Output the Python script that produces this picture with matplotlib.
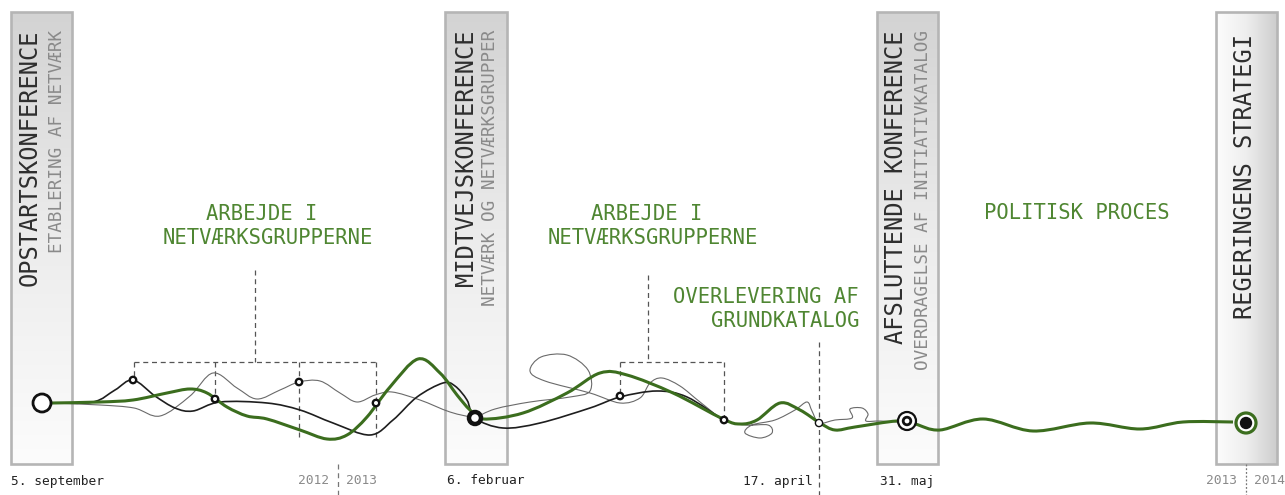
import numpy as np
import matplotlib
matplotlib.use("Agg")
import matplotlib.pyplot as plt
from matplotlib.path import Path
from matplotlib.patches import PathPatch, Rectangle, Circle
from matplotlib.colors import LinearSegmentedColormap

# ---------------- data (pixel coordinates) ----------------
box_x0 = [11, 445, 877, 1216]
box_x1 = [72, 507, 938, 1277]
box_top = 12
box_bot = 464

titles = ["OPSTARTSKONFERENCE", "MIDTVEJSKONFERENCE", "AFSLUTTENDE KONFERENCE", "REGERINGENS STRATEGI"]
title_x = [29.5, 466, 896, 1245]
title_top = [30, 30, 30, 34]
subtitles = ["ETABLERING AF NETVÆRK", "NETVÆRK OG NETVÆRKSGRUPPER", "OVERDRAGELSE AF INITIATIVKATALOG", ""]
subtitle_x = [57, 490, 923, 0]

green_labels = ["ARBEJDE I \nNETVÆRKSGRUPPERNE", "ARBEJDE I \nNETVÆRKSGRUPPERNE",
                "OVERLEVERING AF\nGRUNDKATALOG", "POLITISK PROCES"]
green_label_x = [268, 653, 859, 1077]
green_label_y = [226, 226, 309, 213]
green_label_ha = ["center", "center", "right", "center"]

date_labels = ["5. september", "6. februar", "17. april", "31. maj"]
date_x = [11, 447, 813, 880]
date_ha = ["left", "left", "right", "left"]

year_div_x = [338, 1246]
year_left = ["2012", "2013"]
year_right = ["2013", "2014"]

green_pts = [(52, 403), (100, 402), (133, 400), (167, 393), (190, 389), (207, 393), (227, 407),
             (247, 416), (267, 419), (300, 430), (327, 439), (347, 435), (367, 417), (390, 387),
             (418, 359), (440, 373), (457, 395), (470, 410), (483, 419), (523, 413), (567, 393),
             (600, 373), (627, 375), (673, 393), (723, 419), (740, 424), (757, 420), (780, 403),
             (800, 410), (820, 423), (835, 430), (855, 427), (897, 421), (915, 424), (940, 430),
             (983, 419), (1033, 431), (1090, 423), (1140, 429), (1183, 422), (1233, 422)]

black_pts = [(52, 403), (93, 402), (115, 390), (133, 380), (155, 396), (175, 408), (193, 411),
             (220, 402), (267, 403), (300, 410), (333, 423), (370, 435), (393, 420), (417, 397),
             (443, 383), (455, 386), (467, 400), (475, 418), (503, 428), (540, 423), (590, 408),
             (620, 397), (657, 391), (687, 397), (723, 420)]

gray_a_pts = [(52, 403), (100, 405), (134, 408), (160, 416), (190, 396), (213, 373), (237, 388),
              (257, 399), (280, 390), (299, 382), (320, 381), (340, 393), (357, 402), (375, 395),
              (392, 392), (420, 400), (450, 412), (475, 418)]

gray_b_pts = [(475, 418), (495, 409), (530, 402), (570, 397), (590, 391), (588, 370), (567, 355),
              (541, 357), (530, 371), (545, 381), (590, 393), (620, 403), (640, 398), (650, 383),
              (662, 378), (680, 386), (700, 402), (724, 420), (745, 425), (768, 425), (772, 433),
              (760, 438), (745, 433), (752, 425), (775, 420), (795, 410), (807, 402), (812, 411),
              (819, 423), (835, 420), (852, 418), (850, 409), (862, 408), (868, 414), (866, 421),
              (880, 421), (900, 422)]

small_markers = [(133, 380), (215, 399), (299, 382), (376, 403), (620, 396), (724, 420)]

bracket1_top = (255, 270)
bracket1_drop_x = [134, 215, 299, 376]
bracket1_drop_end = [377, 396, 437, 437]
bracket2_top = (648, 275)
bracket2_drop_x = [620, 724]
bracket2_drop_end = [393, 416]
bracket_y = 362

# ---------------- helpers ----------------
def smooth_path(pts):
    p = np.asarray(pts, float)
    ext = np.vstack([p[0], p, p[-1]])
    verts = [tuple(p[0])]
    codes = [Path.MOVETO]
    for i in range(1, len(ext) - 2):
        p0, p1, p2, p3 = ext[i - 1], ext[i], ext[i + 1], ext[i + 2]
        c1 = p1 + (p2 - p0) / 6.0
        c2 = p2 - (p3 - p1) / 6.0
        verts += [tuple(c1), tuple(c2), tuple(p2)]
        codes += [Path.CURVE4] * 3
    return Path(verts, codes)

GREEN = "#3b6d1e"
GREEN_TXT = "#4f8632"
MONO = "DejaVu Sans Mono"

fig = plt.figure(figsize=(12.85, 4.95), dpi=100)
ax = fig.add_axes([0, 0, 1, 1])
ax.set_xlim(0, 1285)
ax.set_ylim(495, 0)
ax.axis("off")

# boxes with gradient
cm_v = LinearSegmentedColormap.from_list("v", ["#d3d3d3", "#ececec", "#fcfcfc"])
cm_h = LinearSegmentedColormap.from_list("h", ["#fdfdfd", "#eeeeee", "#cdcdcd"])
for i, (x0, x1) in enumerate(zip(box_x0, box_x1)):
    if i < 3:
        grad = np.linspace(0, 1, 256)[:, None]
        ax.imshow(grad, cmap=cm_v, extent=(x0, x1, box_bot, box_top), origin="upper",
                  aspect="auto", zorder=1, interpolation="bilinear")
    else:
        grad = np.linspace(0, 1, 256)[None, :]
        ax.imshow(grad, cmap=cm_h, extent=(x0, x1, box_bot, box_top), origin="upper",
                  aspect="auto", zorder=1, interpolation="bilinear")
    ax.add_patch(Rectangle((x0, box_top), x1 - x0, box_bot - box_top, fill=False,
                           ec="#b5b5b5", lw=1.9, zorder=2))

ax.set_xlim(0, 1285)
ax.set_ylim(495, 0)

# box texts
for t, x, yt in zip(titles, title_x, title_top):
    ax.text(x, yt, t, rotation=90, rotation_mode="anchor", ha="right", va="center",
            fontsize=17.0, family=MONO, color="#2e2e2e", zorder=3)
for t, x in zip(subtitles, subtitle_x):
    if t:
        ax.text(x, 30, t, rotation=90, rotation_mode="anchor", ha="right", va="center",
                fontsize=12.7, family=MONO, color="#8a8a8a", zorder=3)

# green labels
for t, x, y, ha in zip(green_labels, green_label_x, green_label_y, green_label_ha):
    ax.text(x, y, t, ha=ha, va="center", multialignment=ha, fontsize=14.8, family=MONO,
            color=GREEN_TXT, linespacing=1.2, zorder=3)

# dates
for t, x, ha in zip(date_labels, date_x, date_ha):
    ax.text(x, 481, t, ha=ha, va="center", fontsize=9.3, family=MONO, color="#222222", zorder=3)

# year dividers
for x, l, r, ls in zip(year_div_x, year_left, year_right, [(0, (4, 3)), (0, (1.5, 1.5))]):
    ax.plot([x, x], [464, 495], color="#777777", lw=0.9, ls=ls, zorder=2)
    ax.text(x - 9, 481, l, ha="right", va="center", fontsize=9.3, family=MONO, color="#8a8a8a")
    ax.text(x + 8, 481, r, ha="left", va="center", fontsize=9.3, family=MONO, color="#8a8a8a")

# dashed brackets
dkw = dict(color="#555555", lw=0.9, ls=(0, (4, 3)), zorder=2)
ax.plot([bracket1_top[0], bracket1_top[0]], [bracket1_top[1], bracket_y], **dkw)
ax.plot([min(bracket1_drop_x), max(bracket1_drop_x)], [bracket_y, bracket_y], **dkw)
for x, ye in zip(bracket1_drop_x, bracket1_drop_end):
    ax.plot([x, x], [bracket_y, ye], **dkw)
ax.plot([bracket2_top[0], bracket2_top[0]], [bracket2_top[1], bracket_y], **dkw)
ax.plot([min(bracket2_drop_x), max(bracket2_drop_x)], [bracket_y, bracket_y], **dkw)
for x, ye in zip(bracket2_drop_x, bracket2_drop_end):
    ax.plot([x, x], [bracket_y, ye], **dkw)
ax.plot([819, 819], [342, 495], **dkw)

# curves
ax.add_patch(PathPatch(smooth_path(gray_a_pts), fill=False, ec="#6a6a6a", lw=0.8, zorder=4))
ax.add_patch(PathPatch(smooth_path(gray_b_pts), fill=False, ec="#6a6a6a", lw=0.8, zorder=4))
ax.add_patch(PathPatch(smooth_path(black_pts), fill=False, ec="#1e1e1e", lw=1.2, zorder=5))
ax.add_patch(PathPatch(smooth_path(green_pts), fill=False, ec=GREEN, lw=2.2, zorder=6))

# markers
ax.add_patch(Circle((42, 403), 9, fc="white", ec="#111111", lw=2.0, zorder=8))
for (x, y) in small_markers:
    ax.add_patch(Circle((x, y), 3.2, fc="white", ec="#111111", lw=1.7, zorder=8))
ax.add_patch(Circle((475, 418), 6, fc="white", ec="#111111", lw=3.2, zorder=8))
ax.add_patch(Circle((819, 423), 3.6, fc="white", ec="#111111", lw=1.0, zorder=8))
ax.add_patch(Circle((907, 421), 9, fc="white", ec="#111111", lw=1.6, zorder=8))
ax.add_patch(Circle((907, 421), 3.8, fc="white", ec="#111111", lw=2.0, zorder=9))
ax.add_patch(Circle((1246, 423), 10, fc="white", ec=GREEN, lw=2.3, zorder=8))
ax.add_patch(Circle((1246, 423), 6.2, fc="#111111", ec="none", zorder=9))

fig.savefig("out.png", dpi=100)
